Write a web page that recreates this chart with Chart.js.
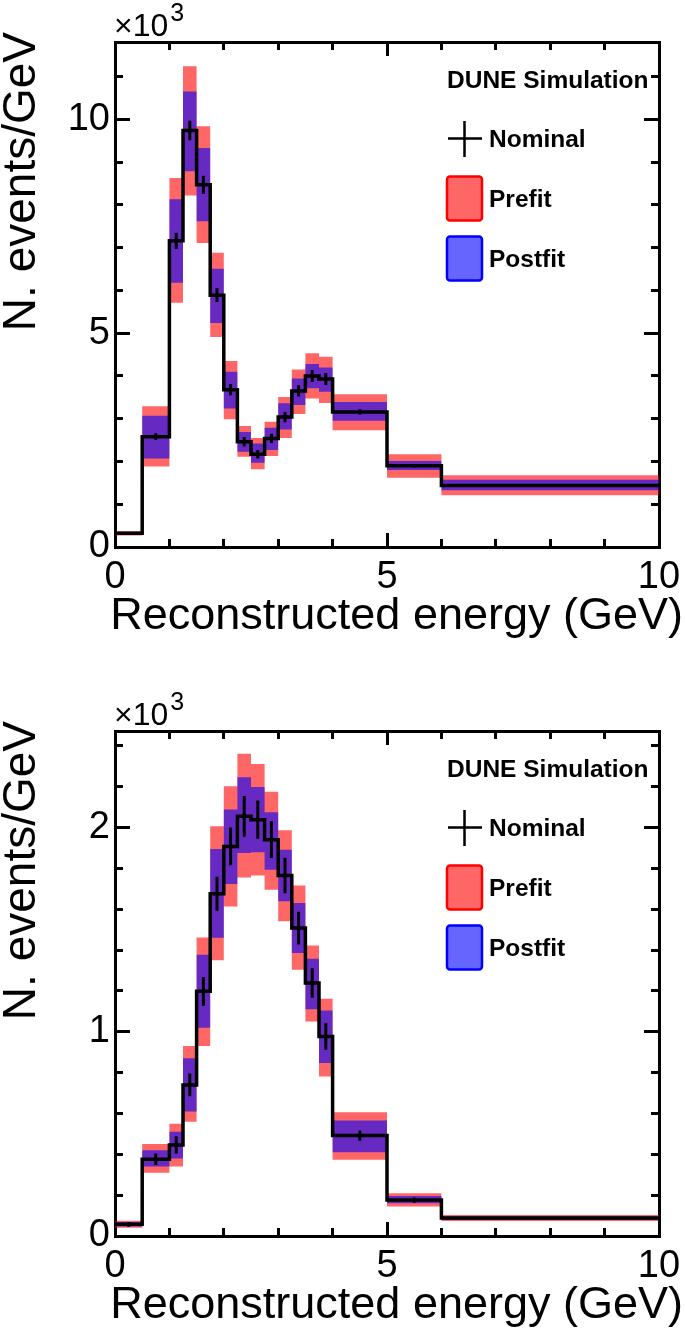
<!DOCTYPE html>
<html>
<head>
<meta charset="utf-8">
<script src="https://cdn.jsdelivr.net/npm/chart.js@4.4.1/dist/chart.umd.min.js"></script>
<style>
  html, body { margin: 0; padding: 0; background: #fff; }
  body { width: 685px; height: 1331px; position: relative; overflow: hidden; }
  canvas { position: absolute; left: 0; }
  #numuChart { top: 0; }
  #nueChart { top: 689px; }
</style>
</head>
<body>
<canvas id="numuChart" width="685" height="689"></canvas>
<canvas id="nueChart" width="685" height="642"></canvas>
<script>
// Prefit / postfit bands vs nominal, values in 10^3 events/GeV
const binEdges = [0, 0.5, 1, 1.25, 1.5, 1.75, 2, 2.25, 2.5, 2.75, 3, 3.25, 3.5, 3.75, 4, 5, 6, 10];

// upper panel
const topNominal   = [0.32, 2.58, 7.16, 9.74, 8.47, 5.89, 3.68, 2.46, 2.17, 2.54, 3.04, 3.65, 4.00, 3.93, 3.16, 1.90, 1.44];
const topStatErr   = [0.03, 0.08, 0.19, 0.23, 0.21, 0.16, 0.13, 0.11, 0.10, 0.11, 0.12, 0.13, 0.14, 0.14, 0.06, 0.04, 0.02];
const topPrefitHi  = [0.37, 3.29, 8.63, 11.24, 9.84, 6.88, 4.35, 2.83, 2.55, 2.93, 3.51, 4.15, 4.53, 4.45, 3.57, 2.17, 1.68];
const topPrefitLo  = [0.27, 1.88, 5.71, 8.22, 7.11, 4.91, 2.99, 2.11, 1.82, 2.13, 2.55, 3.11, 3.47, 3.37, 2.73, 1.62, 1.21];
const topPostfitHi = [0.35, 3.07, 8.13, 10.65, 9.33, 6.51, 4.10, 2.69, 2.42, 2.79, 3.36, 3.94, 4.28, 4.20, 3.39, 2.01, 1.57];
const topPostfitLo = [0.29, 2.07, 6.18, 8.79, 7.62, 5.24, 3.24, 2.23, 1.97, 2.27, 2.75, 3.32, 3.71, 3.63, 2.95, 1.80, 1.33];

// lower panel
const botNominal   = [0.057, 0.376, 0.446, 0.74, 1.198, 1.676, 1.908, 2.055, 2.039, 1.941, 1.765, 1.508, 1.239, 0.977, 0.492, 0.176, 0.088];
const botStatErr   = [0.012, 0.028, 0.042, 0.056, 0.070, 0.083, 0.092, 0.100, 0.094, 0.090, 0.087, 0.080, 0.072, 0.065, 0.025, 0.013, 0.005];
const botPrefitHi  = [0.075, 0.45, 0.55, 0.93, 1.462, 2.006, 2.203, 2.361, 2.312, 2.175, 1.987, 1.716, 1.422, 1.162, 0.606, 0.209, 0.103];
const botPrefitLo  = [0.040, 0.31, 0.34, 0.56, 0.93, 1.35, 1.614, 1.756, 1.765, 1.696, 1.541, 1.304, 1.05, 0.781, 0.373, 0.144, 0.073];
const botPostfitHi = [0.068, 0.42, 0.51, 0.87, 1.377, 1.895, 2.088, 2.247, 2.199, 2.075, 1.892, 1.631, 1.358, 1.104, 0.565, 0.196, 0.096];
const botPostfitLo = [0.047, 0.34, 0.38, 0.61, 1.02, 1.46, 1.724, 1.876, 1.879, 1.794, 1.639, 1.386, 1.111, 0.847, 0.41, 0.16, 0.080];

const FONT = '"Liberation Sans", Arial, Helvetica, sans-serif';
const PREFIT_FILL = 'rgba(255,0,0,0.6)';
const POSTFIT_FILL = 'rgba(0,0,255,0.6)';

function stepPoints(vals){
  const pts = vals.map((v, i) => ({ x: binEdges[i], y: v }));
  pts.push({ x: binEdges[vals.length], y: vals[vals.length - 1] });
  return pts;
}

function errorPoints(vals, errs){
  const pts = [];
  vals.forEach((v, i) => {
    const c = (binEdges[i] + binEdges[i + 1]) / 2;
    pts.push({ x: c, y: v - errs[i] }, { x: c, y: v + errs[i] }, { x: c, y: null });
  });
  return pts;
}

function band(hi, lo, color, order){
  const common = { stepped: true, borderColor: 'rgba(0,0,0,0)', borderWidth: 1, pointRadius: 0, xAxisID: 'x', yAxisID: 'y', order };
  return [
    Object.assign({ data: stepPoints(hi), backgroundColor: color, fill: '+1' }, common),
    Object.assign({ data: stepPoints(lo), fill: false }, common)
  ];
}

// ROOT-like frame: ticks point inward, minor ticks shorter
function frameAxis(axis, position, min, max, step, len, extra){
  const horiz = axis === 'x';
  return Object.assign({
    type: 'linear', axis, position, min, max, weight: 0,
    grid: { drawOnChartArea: false, drawTicks: true, tickLength: -len, tickWidth: 3, tickColor: '#000' },
    border: { display: false },
    ticks: { display: false, stepSize: step, includeBounds: false },
    afterFit: s => { if (horiz) s.height = 0; else s.width = 0; }
  }, extra || {});
}

function box(ctx, x, y, w, h, fill, stroke){
  ctx.beginPath();
  if (ctx.roundRect) ctx.roundRect(x, y, w, h, 3); else ctx.rect(x, y, w, h);
  ctx.fillStyle = fill;
  ctx.fill();
  ctx.lineWidth = 2.5;
  ctx.strokeStyle = stroke;
  ctx.stroke();
}

const rootDecor = {
  id: 'rootDecor',
  afterDraw(chart){
    const ctx = chart.ctx;
    const a = chart.chartArea;
    ctx.save();
    ctx.fillStyle = '#000';
    ctx.textBaseline = 'alphabetic';

    // y title, flush with top of axis
    ctx.save();
    ctx.translate(a.left - 80, a.top - 10);
    ctx.rotate(-Math.PI / 2);
    ctx.textAlign = 'right';
    ctx.font = '46px ' + FONT;
    ctx.fillText('N. events/GeV', 0, 0);
    ctx.restore();

    // x title, flush right
    ctx.textAlign = 'right';
    ctx.font = '45px ' + FONT;
    ctx.fillText('Reconstructed energy (GeV)', a.right + 24, a.bottom + 82);

    // exponent label
    ctx.textAlign = 'left';
    ctx.font = '32px ' + FONT;
    ctx.fillText('×10', a.left - 1, a.top - 6);
    const w = ctx.measureText('×10').width;
    ctx.font = '25px ' + FONT;
    ctx.fillText('3', a.left + w + 1, a.top - 21);

    // legend
    const lx = a.right - 212;
    ctx.font = 'bold 24.5px ' + FONT;
    ctx.fillText('DUNE Simulation', lx, a.top + 46);
    ctx.fillText('Nominal', lx + 42, a.top + 105);
    ctx.fillText('Prefit', lx + 42, a.top + 165);
    ctx.fillText('Postfit', lx + 42, a.top + 225);

    ctx.strokeStyle = '#000';
    ctx.lineWidth = 2.5;
    ctx.beginPath();
    ctx.moveTo(lx + 1, a.top + 96.5); ctx.lineTo(lx + 35, a.top + 96.5);
    ctx.moveTo(lx + 17.5, a.top + 79); ctx.lineTo(lx + 17.5, a.top + 115);
    ctx.stroke();

    box(ctx, lx, a.top + 134.5, 35, 44, PREFIT_FILL, '#ff0000');
    box(ctx, lx, a.top + 194.5, 35, 44, POSTFIT_FILL, '#0000ff');
    ctx.restore();
  }
};

function makeChart(id, o){
  const canvas = document.getElementById(id);
  const H = canvas.height;
  const datasets = [
    ...band(o.prefitHi, o.prefitLo, PREFIT_FILL, 3),
    ...band(o.postfitHi, o.postfitLo, POSTFIT_FILL, 2),
    { data: stepPoints(o.nominal), stepped: true, borderColor: '#000', borderWidth: 3.5, pointRadius: 0,
      fill: false, xAxisID: 'x', yAxisID: 'y', order: 1, borderJoinStyle: 'miter' },
    { data: errorPoints(o.nominal, o.err), borderColor: '#000', borderWidth: 3, pointRadius: 0,
      fill: false, spanGaps: false, xAxisID: 'x', yAxisID: 'y', order: 0, borderCapStyle: 'butt' }
  ];
  const tickFont = { family: FONT, size: 38, lineHeight: 1 };
  return new Chart(canvas, {
    type: 'line',
    data: { datasets },
    options: {
      responsive: false,
      animation: false,
      events: [],
      layout: { padding: { left: 0, right: 26, top: 42, bottom: 0 } },
      plugins: { legend: { display: false }, tooltip: { enabled: false } },
      scales: {
        x: frameAxis('x', 'bottom', 0, 10, 5, 14, {
          weight: 1,
          border: { display: true, color: '#000', width: 3 },
          ticks: { display: true, stepSize: 5, includeBounds: false, autoSkip: false, maxRotation: 0,
                   color: '#000', font: tickFont, padding: 26 },
          // labels overhang the frame; keep the frame where ROOT puts it
          afterFit: s => { s.height = H - 547; s.paddingLeft = 0; s.paddingRight = 0; }
        }),
        xm: frameAxis('x', 'bottom', 0, 10, 1, 8),
        xt: frameAxis('x', 'top', 0, 10, 1, 8, { border: { display: true, color: '#000', width: 3 } }),
        xtM: frameAxis('x', 'top', 0, 10, 5, 14),
        y: frameAxis('y', 'left', 0, o.ymax, o.major, 15, {
          weight: 1,
          border: { display: true, color: '#000', width: 3 },
          ticks: { display: true, stepSize: o.major, includeBounds: false, autoSkip: false,
                   color: '#000', font: tickFont, padding: 20 },
          afterFit: s => { s.width = 115; s.paddingTop = 0; s.paddingBottom = 0; }
        }),
        ym: frameAxis('y', 'left', 0, o.ymax, o.minor, 8),
        yr: frameAxis('y', 'right', 0, o.ymax, o.minor, 8, { border: { display: true, color: '#000', width: 3 } }),
        yrM: frameAxis('y', 'right', 0, o.ymax, o.major, 15)
      }
    },
    plugins: [rootDecor]
  });
}

makeChart('numuChart', {
  nominal: topNominal, err: topStatErr,
  prefitHi: topPrefitHi, prefitLo: topPrefitLo,
  postfitHi: topPostfitHi, postfitLo: topPostfitLo,
  ymax: 11.81, major: 5, minor: 1
});

makeChart('nueChart', {
  nominal: botNominal, err: botStatErr,
  prefitHi: botPrefitHi, prefitLo: botPrefitLo,
  postfitHi: botPostfitHi, postfitLo: botPostfitLo,
  ymax: 2.473, major: 1, minor: 0.2
});
</script>
</body>
</html>
